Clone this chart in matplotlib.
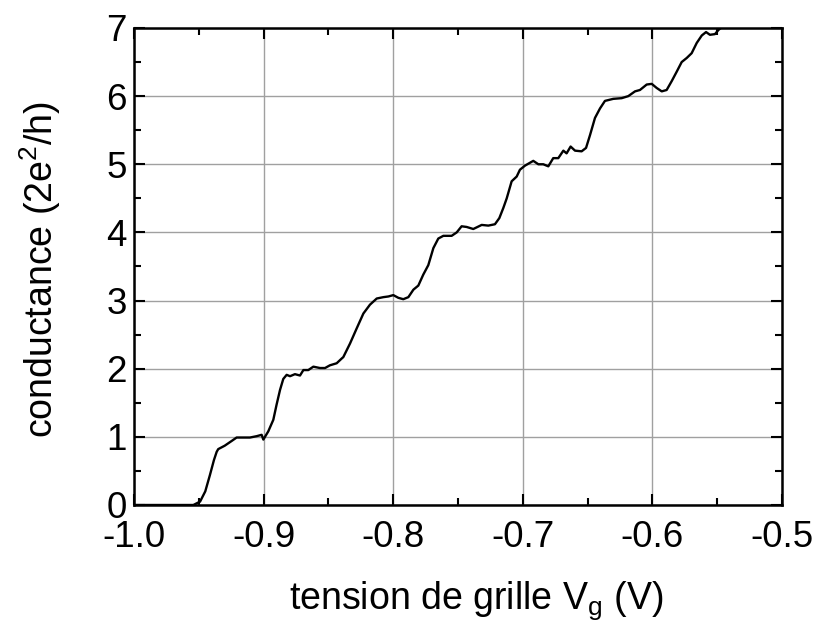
import matplotlib
matplotlib.use("Agg")
import matplotlib.pyplot as plt
from matplotlib.ticker import MultipleLocator

plt.rcParams['font.family'] = ['Liberation Sans', 'DejaVu Sans']
plt.rcParams['mathtext.fontset'] = 'custom'
plt.rcParams['mathtext.rm'] = 'Liberation Sans'

vg = [-1.000, -0.9542, -0.949, -0.945, -0.9414, -0.9383, -0.9362, -0.935, -0.930, -0.9246,
      -0.9208, -0.9105, -0.9053, -0.9015, -0.9002, -0.8964, -0.8925, -0.890, -0.8873, -0.8848,
      -0.8822, -0.8796, -0.8758, -0.8719, -0.8693, -0.8655, -0.8616, -0.8565, -0.8526, -0.8488,
      -0.8436, -0.8397, -0.8385, -0.8333, -0.8282, -0.823, -0.8179, -0.8127, -0.8076, -0.8037,
      -0.7999, -0.796, -0.7922, -0.7883, -0.7844, -0.7806, -0.7768, -0.7729, -0.769, -0.7652,
      -0.7613, -0.7549, -0.751, -0.7472, -0.7433, -0.7382, -0.7317, -0.7266, -0.7215, -0.7181,
      -0.7150, -0.7124, -0.7086, -0.7047, -0.7022, -0.6983, -0.6919, -0.688, -0.6842, -0.6803,
      -0.6765, -0.6726, -0.6687, -0.6662, -0.6631, -0.6597, -0.6546, -0.6512, -0.6481, -0.6443,
      -0.6404, -0.6366, -0.6302, -0.6237, -0.6186, -0.6134, -0.6096, -0.6044, -0.6005, -0.5967,
      -0.5928, -0.5890, -0.5851, -0.5812, -0.5774, -0.5735, -0.5697, -0.5658, -0.5619, -0.5586,
      -0.5556, -0.5517, -0.5491, -0.5472]
g = [0.00, 0.00, 0.05, 0.20, 0.44, 0.66, 0.78, 0.82, 0.87, 0.94,
     0.99, 0.99, 1.01, 1.03, 0.96, 1.08, 1.25, 1.47, 1.69, 1.85,
     1.91, 1.89, 1.92, 1.90, 1.98, 1.98, 2.03, 2.01, 2.01, 2.05,
     2.08, 2.15, 2.17, 2.37, 2.59, 2.81, 2.94, 3.03, 3.05, 3.06,
     3.08, 3.04, 3.02, 3.05, 3.16, 3.22, 3.38, 3.52, 3.77, 3.91,
     3.95, 3.95, 4.00, 4.09, 4.08, 4.05, 4.11, 4.10, 4.12, 4.21,
     4.36, 4.50, 4.75, 4.82, 4.92, 4.98, 5.05, 5.00, 5.00, 4.97,
     5.09, 5.09, 5.20, 5.16, 5.26, 5.20, 5.19, 5.24, 5.43, 5.68,
     5.82, 5.93, 5.96, 5.97, 6.00, 6.07, 6.09, 6.17, 6.18, 6.12,
     6.07, 6.09, 6.22, 6.36, 6.50, 6.56, 6.63, 6.78, 6.89, 6.94,
     6.90, 6.91, 6.97, 7.00]

fig = plt.figure(figsize=(8.15, 6.26), dpi=100)
ax = fig.add_axes([0.1644, 0.1933, 0.7951, 0.7620])
ax.plot(vg, g, color='black', lw=1.7, zorder=3)
ax.set_xlim(-1.0, -0.5)
ax.set_ylim(0, 7)
ax.xaxis.set_minor_locator(MultipleLocator(0.05))
ax.yaxis.set_major_locator(MultipleLocator(1))
ax.yaxis.set_minor_locator(MultipleLocator(0.5))
ax.set_xticks([-1.0, -0.9, -0.8, -0.7, -0.6, -0.5])
ax.set_xticklabels(['-1.0', '-0.9', '-0.8', '-0.7', '-0.6', '-0.5'])
ax.grid(True, which='major', color='#a0a0a0', lw=1.0, zorder=1)
ax.tick_params(which='both', direction='in', top=True, right=True, width=1.5, labelsize=26.5)
ax.tick_params(which='major', length=8)
ax.tick_params(axis='x', which='major', pad=11)
ax.tick_params(axis='y', which='major', pad=5)
ax.tick_params(which='minor', length=5)
for s in ax.spines.values():
    s.set_linewidth(1.8)
ax.set_xlabel(r'tension de grille V$_\mathregular{g}$ (V)', fontsize=27)
ax.set_ylabel(r'conductance (2e$^\mathregular{2}$/h)', fontsize=27)
ax.xaxis.set_label_coords(0.528, -0.155)
ax.yaxis.set_label_coords(-0.11, 0.493)
fig.savefig('out.png', dpi=100)
